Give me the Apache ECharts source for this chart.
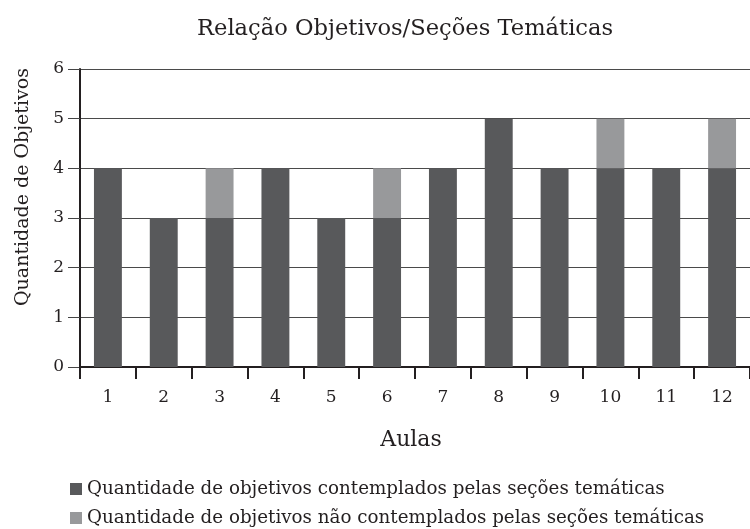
<!DOCTYPE html>
<html>
<head>
<meta charset="utf-8">
<script src="https://cdn.jsdelivr.net/npm/echarts@6/dist/echarts.min.js"></script>
<style>html,body{margin:0;padding:0;background:#fff}#c{width:750px;height:529px}</style>
</head>
<body>
<div id="c"></div>
<script>
const categories = ['1','2','3','4','5','6','7','8','9','10','11','12'];
const contemplados = [4,3,3,4,3,3,4,5,4,4,4,4];
const naoContemplados = [0,0,1,0,0,1,0,0,0,1,0,1];
const seriesNames = ['Quantidade de objetivos contemplados pelas seções temáticas','Quantidade de objetivos não contemplados pelas seções temáticas'];
const titleText = 'Relação Objetivos/Seções Temáticas';
const xName = 'Aulas';
const yName = 'Quantidade de Objetivos';

const FONT = '"DejaVu Serif", serif';
const TXT = '#231f20';
const legendCommon = {orient: 'horizontal', left: 70, itemWidth: 12, itemHeight: 12, itemGap: 10,
  icon: 'rect', textStyle: {fontFamily: FONT, fontSize: 18.3, color: TXT}, padding: 0};
const chart = echarts.init(document.getElementById('c'), null, {renderer:'canvas'});
chart.setOption({
  animation: false,
  backgroundColor: '#fff',
  title: {text: titleText, left: 197, top: 18, padding: 0,
    textStyle: {fontFamily: FONT, fontWeight: 'normal', fontSize: 22.6, color: TXT}},
  legend: [
    Object.assign({}, legendCommon, {top: 480, data: [seriesNames[0]]}),
    Object.assign({}, legendCommon, {top: 509, data: [seriesNames[1]]})
  ],
  grid: {left: 80, right: 0, top: 69, bottom: 162, containLabel: false},
  xAxis: {type: 'category', data: categories,
    name: xName, nameLocation: 'middle', nameGap: 62,
    nameTextStyle: {fontFamily: FONT, fontSize: 22, color: TXT, padding: [0, 8, 0, 0]},
    axisLine: {lineStyle: {color: '#231f20', width: 2}},
    axisTick: {show: true, length: 12, interval: 0, lineStyle: {color: '#231f20', width: 2}},
    axisLabel: {fontFamily: FONT, fontSize: 17, color: TXT, margin: 22}},
  yAxis: {type: 'value', min: 0, max: 6, interval: 1,
    axisLine: {show: true, lineStyle: {color: '#231f20', width: 2}},
    axisTick: {show: true, length: 12, lineStyle: {color: '#444', width: 1}},
    axisLabel: {fontFamily: FONT, fontSize: 17, color: TXT, margin: 16},
    splitLine: {lineStyle: {color: '#4a4a4a', width: 1}}},
  graphic: [{type: 'text', x: 23, y: 187, rotation: Math.PI/2,
    style: {text: yName, fontFamily: FONT, fontSize: 19, fill: TXT, align: 'center', verticalAlign: 'middle'}}],
  series: [
    {name: seriesNames[0], type: 'bar', stack: 'a', data: contemplados, barWidth: '50%',
      itemStyle: {color: '#58595b'}},
    {name: seriesNames[1], type: 'bar', stack: 'a', data: naoContemplados, barWidth: '50%',
      itemStyle: {color: '#98999b'}}
  ]
});
</script>
</body>
</html>
